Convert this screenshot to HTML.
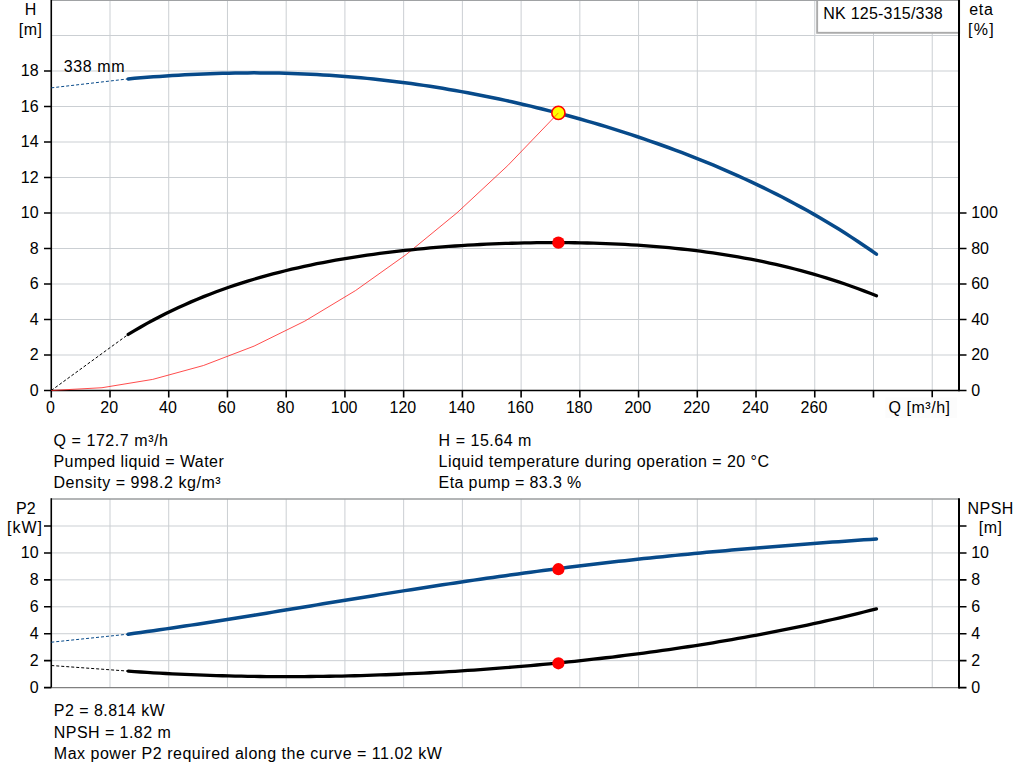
<!DOCTYPE html><html><head><meta charset="utf-8"><style>html,body{margin:0;padding:0;background:#fff;}svg{display:block;}text{font-family:"Liberation Sans",sans-serif;font-size:16px;fill:#000;}</style></head><body>
<svg width="1024" height="781" viewBox="0 0 1024 781">
<rect width="1024" height="781" fill="#fff"/>
<path d="M110.00,0 V390.5 M168.73,0 V390.5 M227.46,0 V390.5 M286.19,0 V390.5 M344.92,0 V390.5 M403.65,0 V390.5 M462.38,0 V390.5 M521.11,0 V390.5 M579.84,0 V390.5 M638.57,0 V390.5 M697.30,0 V390.5 M756.03,0 V390.5 M814.76,0 V390.5 M873.49,0 V390.5 M932.22,0 V390.5 M51.27,355.00 H959 M51.27,319.50 H959 M51.27,284.00 H959 M51.27,248.50 H959 M51.27,213.00 H959 M51.27,177.50 H959 M51.27,142.00 H959 M51.27,106.50 H959 M51.27,71.00 H959 M51.27,35.50 H959 M110.00,499 V687.60 M168.73,499 V687.60 M227.46,499 V687.60 M286.19,499 V687.60 M344.92,499 V687.60 M403.65,499 V687.60 M462.38,499 V687.60 M521.11,499 V687.60 M579.84,499 V687.60 M638.57,499 V687.60 M697.30,499 V687.60 M756.03,499 V687.60 M814.76,499 V687.60 M873.49,499 V687.60 M932.22,499 V687.60 M51.27,660.67 H959 M51.27,633.73 H959 M51.27,606.80 H959 M51.27,579.86 H959 M51.27,552.93 H959 M51.27,526.00 H959" stroke="#cbcfd3" stroke-width="1" fill="none"/>
<rect x="817.15" y="-1" width="142" height="33.8" fill="#fff" stroke="#ababab" stroke-width="1.9"/>
<path d="M51,0.5 H959" stroke="#a0a2a4" stroke-width="1"/>
<path d="M51,499 H959" stroke="#9a9c9e" stroke-width="1.6"/>
<path d="M51,687.60 H959" stroke="#808080" stroke-width="1.2"/>
<path d="M51.27,0 V397.6 M51.27,390.5 H966 M110.00,390.5 V397.6 M168.73,390.5 V397.6 M227.46,390.5 V397.6 M286.19,390.5 V397.6 M344.92,390.5 V397.6 M403.65,390.5 V397.6 M462.38,390.5 V397.6 M521.11,390.5 V397.6 M579.84,390.5 V397.6 M638.57,390.5 V397.6 M697.30,390.5 V397.6 M756.03,390.5 V397.6 M814.76,390.5 V397.6 M873.49,390.5 V397.6 M932.22,390.5 V397.6 M44,390.50 H51.27 M44,355.00 H51.27 M44,319.50 H51.27 M44,284.00 H51.27 M44,248.50 H51.27 M44,213.00 H51.27 M44,177.50 H51.27 M44,142.00 H51.27 M44,106.50 H51.27 M44,71.00 H51.27 M959,390.50 H966.5 M959,355.00 H966.5 M959,319.50 H966.5 M959,284.00 H966.5 M959,248.50 H966.5 M959,213.00 H966.5" stroke="#000" stroke-width="1.6" fill="none"/>
<path d="M959,0 V391.3" stroke="#000" stroke-width="2"/>
<path d="M51.27,498.2 V687.60 M44,687.60 H51.27 M44,660.67 H51.27 M44,633.73 H51.27 M44,606.80 H51.27 M44,579.86 H51.27 M44,552.93 H51.27 M44,526.00 H51.27 M959,687.60 H966.5 M959,660.67 H966.5 M959,633.73 H966.5 M959,606.80 H966.5 M959,579.86 H966.5 M959,552.93 H966.5 M959,526.00 H966.5" stroke="#000" stroke-width="1.6" fill="none"/>
<path d="M959,498.2 V688.40" stroke="#000" stroke-width="2"/>
<path d="M51.27,87.86 L128.21,78.89" stroke="#074a8a" stroke-width="1" stroke-dasharray="3 2" fill="none"/>
<path d="M51.27,390.5 L128.21,334.43" stroke="#000" stroke-width="1" stroke-dasharray="3 2" fill="none"/>
<path d="M51.27,642.22 L128.21,634.15" stroke="#074a8a" stroke-width="1" stroke-dasharray="3 2" fill="none"/>
<path d="M51.27,665.51 L128.21,671.11" stroke="#000" stroke-width="1" stroke-dasharray="3 2" fill="none"/>
<path d="M51.27,390.50 L101.98,387.72 L152.70,379.40 L203.41,365.52 L254.12,346.08 L304.84,321.10 L355.55,290.56 L406.26,254.47 L456.98,212.83 L507.69,165.64 L558.40,112.89" stroke="#ff2020" stroke-width="0.8" fill="none"/>
<path d="M128.21,334.43 L134.49,330.64 L140.78,326.97 L147.07,323.43 L153.36,320.02 L159.64,316.72 L165.93,313.53 L172.22,310.46 L178.51,307.49 L184.79,304.63 L191.08,301.87 L197.37,299.21 L203.66,296.65 L209.94,294.18 L216.23,291.79 L222.52,289.50 L228.81,287.28 L235.09,285.15 L241.38,283.10 L247.67,281.12 L253.96,279.22 L260.25,277.39 L266.53,275.62 L272.82,273.93 L279.11,272.30 L285.40,270.73 L291.68,269.22 L297.97,267.77 L304.26,266.37 L310.55,265.03 L316.83,263.74 L323.12,262.51 L329.41,261.32 L335.70,260.19 L341.98,259.09 L348.27,258.05 L354.56,257.04 L360.85,256.08 L367.13,255.16 L373.42,254.28 L379.71,253.44 L386.00,252.64 L392.28,251.87 L398.57,251.14 L404.86,250.44 L411.15,249.77 L417.43,249.14 L423.72,248.54 L430.01,247.98 L436.30,247.44 L442.58,246.93 L448.87,246.46 L455.16,246.01 L461.45,245.59 L467.73,245.20 L474.02,244.84 L480.31,244.50 L486.60,244.19 L492.89,243.91 L499.17,243.66 L505.46,243.43 L511.75,243.24 L518.04,243.06 L524.32,242.92 L530.61,242.80 L536.90,242.71 L543.19,242.64 L549.47,242.61 L555.76,242.60 L562.05,242.62 L568.34,242.67 L574.62,242.74 L580.91,242.85 L587.20,242.99 L593.49,243.15 L599.77,243.35 L606.06,243.58 L612.35,243.84 L618.64,244.13 L624.92,244.45 L631.21,244.81 L637.50,245.21 L643.79,245.64 L650.07,246.10 L656.36,246.60 L662.65,247.14 L668.94,247.72 L675.22,248.34 L681.51,249.00 L687.80,249.70 L694.09,250.44 L700.37,251.22 L706.66,252.06 L712.95,252.93 L719.24,253.85 L725.52,254.83 L731.81,255.85 L738.10,256.92 L744.39,258.04 L750.68,259.21 L756.96,260.44 L763.25,261.72 L769.54,263.06 L775.83,264.46 L782.11,265.92 L788.40,267.44 L794.69,269.01 L800.98,270.66 L807.26,272.36 L813.55,274.14 L819.84,275.98 L826.13,277.89 L832.41,279.87 L838.70,281.92 L844.99,284.04 L851.28,286.24 L857.56,288.52 L863.85,290.87 L870.14,293.30 L876.43,295.81" stroke="#000" stroke-width="3.3" fill="none" stroke-linecap="round" stroke-linejoin="round"/>
<path d="M128.21,78.89 L134.49,78.35 L140.78,77.83 L147.07,77.33 L153.36,76.85 L159.64,76.40 L165.93,75.96 L172.22,75.56 L178.51,75.18 L184.79,74.82 L191.08,74.50 L197.37,74.20 L203.66,73.93 L209.94,73.69 L216.23,73.48 L222.52,73.30 L228.81,73.15 L235.09,73.03 L241.38,72.94 L247.67,72.89 L253.96,72.87 L260.25,72.88 L266.53,72.93 L272.82,73.01 L279.11,73.12 L285.40,73.27 L291.68,73.45 L297.97,73.67 L304.26,73.93 L310.55,74.21 L316.83,74.54 L323.12,74.89 L329.41,75.29 L335.70,75.71 L341.98,76.18 L348.27,76.68 L354.56,77.21 L360.85,77.78 L367.13,78.38 L373.42,79.02 L379.71,79.70 L386.00,80.41 L392.28,81.15 L398.57,81.93 L404.86,82.75 L411.15,83.59 L417.43,84.48 L423.72,85.39 L430.01,86.35 L436.30,87.33 L442.58,88.35 L448.87,89.41 L455.16,90.49 L461.45,91.62 L467.73,92.77 L474.02,93.96 L480.31,95.18 L486.60,96.44 L492.89,97.73 L499.17,99.05 L505.46,100.41 L511.75,101.80 L518.04,103.22 L524.32,104.68 L530.61,106.17 L536.90,107.69 L543.19,109.25 L549.47,110.84 L555.76,112.46 L562.05,114.12 L568.34,115.81 L574.62,117.54 L580.91,119.30 L587.20,121.10 L593.49,122.93 L599.77,124.79 L606.06,126.70 L612.35,128.63 L618.64,130.61 L624.92,132.62 L631.21,134.67 L637.50,136.75 L643.79,138.88 L650.07,141.04 L656.36,143.24 L662.65,145.49 L668.94,147.77 L675.22,150.10 L681.51,152.47 L687.80,154.88 L694.09,157.34 L700.37,159.84 L706.66,162.39 L712.95,164.99 L719.24,167.64 L725.52,170.33 L731.81,173.08 L738.10,175.88 L744.39,178.73 L750.68,181.64 L756.96,184.60 L763.25,187.63 L769.54,190.71 L775.83,193.86 L782.11,197.06 L788.40,200.34 L794.69,203.68 L800.98,207.09 L807.26,210.57 L813.55,214.12 L819.84,217.75 L826.13,221.45 L832.41,225.24 L838.70,229.11 L844.99,233.06 L851.28,237.10 L857.56,241.23 L863.85,245.45 L870.14,249.76 L876.43,254.18" stroke="#074a8a" stroke-width="3.5" fill="none" stroke-linecap="round" stroke-linejoin="round"/>
<path d="M128.21,671.11 L134.49,671.56 L140.78,671.99 L147.07,672.39 L153.36,672.78 L159.64,673.15 L165.93,673.49 L172.22,673.82 L178.51,674.13 L184.79,674.42 L191.08,674.69 L197.37,674.94 L203.66,675.17 L209.94,675.39 L216.23,675.59 L222.52,675.77 L228.81,675.93 L235.09,676.07 L241.38,676.20 L247.67,676.31 L253.96,676.40 L260.25,676.48 L266.53,676.54 L272.82,676.58 L279.11,676.61 L285.40,676.62 L291.68,676.62 L297.97,676.60 L304.26,676.56 L310.55,676.51 L316.83,676.44 L323.12,676.36 L329.41,676.27 L335.70,676.15 L341.98,676.03 L348.27,675.89 L354.56,675.73 L360.85,675.56 L367.13,675.37 L373.42,675.17 L379.71,674.96 L386.00,674.73 L392.28,674.49 L398.57,674.23 L404.86,673.96 L411.15,673.67 L417.43,673.37 L423.72,673.06 L430.01,672.73 L436.30,672.39 L442.58,672.03 L448.87,671.66 L455.16,671.28 L461.45,670.88 L467.73,670.47 L474.02,670.04 L480.31,669.60 L486.60,669.15 L492.89,668.68 L499.17,668.19 L505.46,667.70 L511.75,667.19 L518.04,666.66 L524.32,666.12 L530.61,665.57 L536.90,665.00 L543.19,664.41 L549.47,663.82 L555.76,663.20 L562.05,662.58 L568.34,661.94 L574.62,661.28 L580.91,660.61 L587.20,659.92 L593.49,659.22 L599.77,658.50 L606.06,657.76 L612.35,657.02 L618.64,656.25 L624.92,655.47 L631.21,654.67 L637.50,653.86 L643.79,653.03 L650.07,652.18 L656.36,651.32 L662.65,650.44 L668.94,649.54 L675.22,648.63 L681.51,647.69 L687.80,646.75 L694.09,645.78 L700.37,644.79 L706.66,643.79 L712.95,642.77 L719.24,641.72 L725.52,640.66 L731.81,639.58 L738.10,638.49 L744.39,637.37 L750.68,636.23 L756.96,635.07 L763.25,633.89 L769.54,632.69 L775.83,631.47 L782.11,630.23 L788.40,628.97 L794.69,627.68 L800.98,626.37 L807.26,625.04 L813.55,623.69 L819.84,622.31 L826.13,620.92 L832.41,619.49 L838.70,618.05 L844.99,616.57 L851.28,615.08 L857.56,613.56 L863.85,612.01 L870.14,610.44 L876.43,608.84" stroke="#000" stroke-width="3.3" fill="none" stroke-linecap="round" stroke-linejoin="round"/>
<path d="M128.21,634.15 L134.49,633.30 L140.78,632.44 L147.07,631.57 L153.36,630.68 L159.64,629.78 L165.93,628.87 L172.22,627.95 L178.51,627.02 L184.79,626.08 L191.08,625.12 L197.37,624.16 L203.66,623.19 L209.94,622.21 L216.23,621.23 L222.52,620.24 L228.81,619.24 L235.09,618.24 L241.38,617.23 L247.67,616.21 L253.96,615.19 L260.25,614.17 L266.53,613.15 L272.82,612.12 L279.11,611.09 L285.40,610.06 L291.68,609.03 L297.97,607.99 L304.26,606.96 L310.55,605.92 L316.83,604.89 L323.12,603.85 L329.41,602.82 L335.70,601.79 L341.98,600.76 L348.27,599.73 L354.56,598.71 L360.85,597.69 L367.13,596.67 L373.42,595.65 L379.71,594.64 L386.00,593.63 L392.28,592.63 L398.57,591.63 L404.86,590.64 L411.15,589.65 L417.43,588.67 L423.72,587.70 L430.01,586.73 L436.30,585.76 L442.58,584.81 L448.87,583.86 L455.16,582.91 L461.45,581.98 L467.73,581.05 L474.02,580.13 L480.31,579.22 L486.60,578.31 L492.89,577.41 L499.17,576.53 L505.46,575.65 L511.75,574.78 L518.04,573.91 L524.32,573.06 L530.61,572.21 L536.90,571.38 L543.19,570.55 L549.47,569.73 L555.76,568.93 L562.05,568.13 L568.34,567.34 L574.62,566.56 L580.91,565.79 L587.20,565.03 L593.49,564.27 L599.77,563.53 L606.06,562.80 L612.35,562.08 L618.64,561.36 L624.92,560.66 L631.21,559.97 L637.50,559.28 L643.79,558.61 L650.07,557.94 L656.36,557.28 L662.65,556.64 L668.94,556.00 L675.22,555.37 L681.51,554.75 L687.80,554.14 L694.09,553.53 L700.37,552.94 L706.66,552.35 L712.95,551.77 L719.24,551.20 L725.52,550.64 L731.81,550.09 L738.10,549.54 L744.39,549.00 L750.68,548.47 L756.96,547.95 L763.25,547.43 L769.54,546.92 L775.83,546.41 L782.11,545.91 L788.40,545.42 L794.69,544.93 L800.98,544.45 L807.26,543.97 L813.55,543.50 L819.84,543.03 L826.13,542.57 L832.41,542.11 L838.70,541.65 L844.99,541.20 L851.28,540.75 L857.56,540.30 L863.85,539.86 L870.14,539.41 L876.43,538.97" stroke="#074a8a" stroke-width="3.5" fill="none" stroke-linecap="round" stroke-linejoin="round"/>
<circle cx="558.40" cy="242.64" r="6.2" fill="#f00"/>
<circle cx="558.40" cy="569.20" r="6.1" fill="#f00"/>
<circle cx="558.40" cy="663.29" r="6.1" fill="#f00"/>
<circle cx="558.40" cy="112.89" r="6.6" fill="#ff0" stroke="#f00" stroke-width="1.6"/>
<path d="M554.38,117.07 L558.40,112.89" stroke="#ff8000" stroke-width="1" fill="none"/>
<text x="30.6" y="15" text-anchor="middle" >H</text>
<text x="30.3" y="35" text-anchor="middle"  textLength="23.2" lengthAdjust="spacing">[m]</text>
<text x="38.6" y="395.70" text-anchor="end" >0</text>
<text x="38.6" y="360.20" text-anchor="end" >2</text>
<text x="38.6" y="324.70" text-anchor="end" >4</text>
<text x="38.6" y="289.20" text-anchor="end" >6</text>
<text x="38.6" y="253.70" text-anchor="end" >8</text>
<text x="38.6" y="218.20" text-anchor="end" >10</text>
<text x="38.6" y="182.70" text-anchor="end" >12</text>
<text x="38.6" y="147.20" text-anchor="end" >14</text>
<text x="38.6" y="111.70" text-anchor="end" >16</text>
<text x="38.6" y="76.20" text-anchor="end" >18</text>
<text x="63.8" y="71.9" text-anchor="start"  textLength="60.8" lengthAdjust="spacing">338 mm</text>
<text x="50.47" y="413" text-anchor="middle" >0</text>
<text x="109.20" y="413" text-anchor="middle" >20</text>
<text x="167.93" y="413" text-anchor="middle" >40</text>
<text x="226.66" y="413" text-anchor="middle" >60</text>
<text x="285.39" y="413" text-anchor="middle" >80</text>
<text x="344.12" y="413" text-anchor="middle" >100</text>
<text x="402.85" y="413" text-anchor="middle" >120</text>
<text x="461.58" y="413" text-anchor="middle" >140</text>
<text x="520.31" y="413" text-anchor="middle" >160</text>
<text x="579.04" y="413" text-anchor="middle" >180</text>
<text x="637.77" y="413" text-anchor="middle" >200</text>
<text x="696.50" y="413" text-anchor="middle" >220</text>
<text x="755.23" y="413" text-anchor="middle" >240</text>
<text x="813.96" y="413" text-anchor="middle" >260</text>
<rect x="885.5" y="397.5" width="71.5" height="20.5" fill="#fcfcfc"/>
<text x="888.5" y="413" text-anchor="start"  textLength="61.53" lengthAdjust="spacing">Q [m³/h]</text>
<text x="981.05" y="15" text-anchor="middle"  textLength="23.75" lengthAdjust="spacing">eta</text>
<text x="980.85" y="35" text-anchor="middle"  textLength="25.8" lengthAdjust="spacing">[%]</text>
<text x="971.2" y="395.60" text-anchor="start" >0</text>
<text x="971.2" y="360.10" text-anchor="start" >20</text>
<text x="971.2" y="324.60" text-anchor="start" >40</text>
<text x="971.2" y="289.10" text-anchor="start" >60</text>
<text x="971.2" y="253.60" text-anchor="start" >80</text>
<text x="971.2" y="218.10" text-anchor="start" >100</text>
<text x="823.3" y="19" text-anchor="start"  textLength="119.43" lengthAdjust="spacing">NK 125-315/338</text>
<text x="53.5" y="446" text-anchor="start"  textLength="114.47" lengthAdjust="spacing">Q = 172.7 m³/h</text>
<text x="53.5" y="467" text-anchor="start"  textLength="170.22" lengthAdjust="spacing">Pumped liquid = Water</text>
<text x="53.5" y="488" text-anchor="start"  textLength="167.08" lengthAdjust="spacing">Density = 998.2 kg/m³</text>
<text x="438.6" y="446" text-anchor="start"  textLength="92.81" lengthAdjust="spacing">H = 15.64 m</text>
<text x="438.6" y="467" text-anchor="start"  textLength="330.34" lengthAdjust="spacing">Liquid temperature during operation = 20 °C</text>
<text x="438.6" y="488" text-anchor="start"  textLength="142.73" lengthAdjust="spacing">Eta pump = 83.3 %</text>
<text x="25.8" y="514" text-anchor="middle" >P2</text>
<text x="24.5" y="533" text-anchor="middle"  textLength="35.0" lengthAdjust="spacing">[kW]</text>
<text x="38.6" y="692.80" text-anchor="end" >0</text>
<text x="38.6" y="665.87" text-anchor="end" >2</text>
<text x="38.6" y="638.93" text-anchor="end" >4</text>
<text x="38.6" y="612.00" text-anchor="end" >6</text>
<text x="38.6" y="585.06" text-anchor="end" >8</text>
<text x="38.6" y="558.13" text-anchor="end" >10</text>
<text x="990.5" y="514" text-anchor="middle"  textLength="45.8" lengthAdjust="spacing">NPSH</text>
<text x="990.4" y="533" text-anchor="middle"  textLength="23.2" lengthAdjust="spacing">[m]</text>
<text x="971.2" y="692.70" text-anchor="start" >0</text>
<text x="971.2" y="665.77" text-anchor="start" >2</text>
<text x="971.2" y="638.83" text-anchor="start" >4</text>
<text x="971.2" y="611.90" text-anchor="start" >6</text>
<text x="971.2" y="584.96" text-anchor="start" >8</text>
<text x="971.2" y="558.03" text-anchor="start" >10</text>
<text x="53.8" y="716" text-anchor="start"  textLength="110.89" lengthAdjust="spacing">P2 = 8.814 kW</text>
<text x="53.8" y="738" text-anchor="start"  textLength="116.91" lengthAdjust="spacing">NPSH = 1.82 m</text>
<text x="53.8" y="759" text-anchor="start"  textLength="388.01" lengthAdjust="spacing">Max power P2 required along the curve = 11.02 kW</text>
</svg></body></html>
